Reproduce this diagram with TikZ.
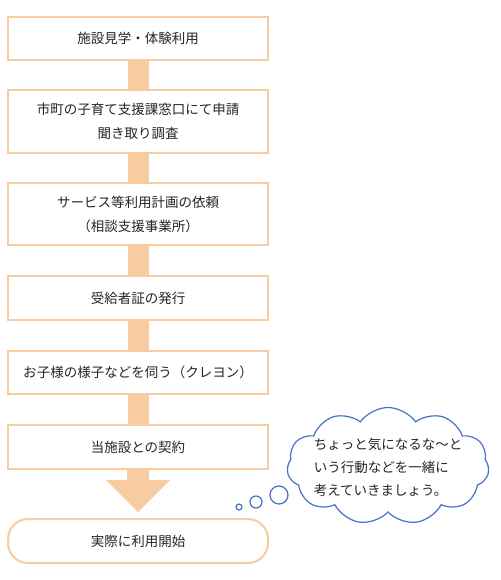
\documentclass[tikz,border=0pt]{standalone}
\usepackage{fontspec}
\setmainfont{Noto Sans CJK JP}
\usetikzlibrary{shapes.symbols}
\definecolor{peach}{HTML}{F8CBA0}
\definecolor{cloudblue}{HTML}{4472C4}
\definecolor{txt}{HTML}{262626}
\tikzset{
  stepbox/.style={draw=peach,line width=2pt,fill=white,minimum width=260pt,
    inner sep=0pt,align=center,text=txt,font=\fontsize{13.5}{24}\selectfont},
  bar/.style={peach,line width=21pt},
}
\begin{document}
\begin{tikzpicture}[x=1pt,y=-1pt]
\useasboundingbox(0,0)rectangle(500,580);
\node[stepbox,minimum height=43pt](B1)at(138,38.5){施設見学・体験利用};
\node[stepbox,minimum height=63pt](B2)at(138,121.5){市町の子育て支援課窓口にて申請\\聞き取り調査};
\node[stepbox,minimum height=62pt](B3)at(138,214){サービス等利用計画の依頼\\（相談支援事業所）};
\node[stepbox,minimum height=44pt](B4)at(138,298){受給者証の発行};
\node[stepbox,minimum height=43pt](B5)at(138,372.5){お子様の様子などを伺う（クレヨン）};
\node[stepbox,minimum height=44pt](B6)at(138,447){当施設との契約};
\node[stepbox,minimum height=44pt,rounded corners=20pt](B7)at(138,541){実際に利用開始};
%%
\draw[bar](B1)--(B2);
\draw[bar](B2)--(B3);
\draw[bar](B3)--(B4);
\draw[bar](B4)--(B5);
\draw[bar](B5)--(B6);
%
\fill[peach]([xshift=-11pt]B6.south)--++(0,10)coordinate(H1)--++(-21,0)
--([yshift=6pt]B7.north)coordinate(TIP)--++(32,-32)--++(-21,0)--([xshift=11pt]B6.south)--cycle;
%%
\node[cloud,draw=cloudblue,line width=1.2pt,fill=white,cloud puffs=11,cloud puff arc=110,
aspect=1.75,minimum width=202pt,minimum height=117pt,inner sep=0pt](C)at(388,466){};
\node[align=left,text=txt,font=\fontsize{13.5}{23}\selectfont](CT)at([yshift=-1pt]C.center)
{ちょっと気になるな〜と\\いう行動などを一緒に\\考えていきましょう。};
\draw[cloudblue,line width=1.2pt](279,495)circle(9);
\draw[cloudblue,line width=1.2pt](256,502)circle(6);
\draw[cloudblue,line width=1.2pt](239,507)circle(3);
\end{tikzpicture}
\end{document}
